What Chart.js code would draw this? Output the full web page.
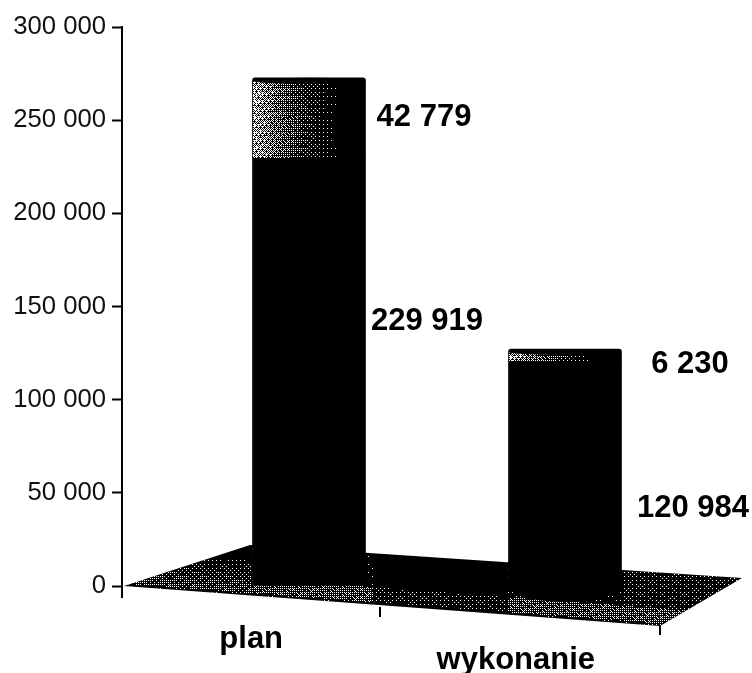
<!DOCTYPE html>
<html>
<head>
<meta charset="utf-8">
<script src="https://cdn.jsdelivr.net/npm/chart.js@4/dist/chart.umd.min.js"></script>
<style>
html, body { margin: 0; padding: 0; background: #fff; }
canvas { display: block; }
</style>
</head>
<body>
<canvas id="mycanvas" width="752" height="673"></canvas>
<script>
var categories = ['plan', 'wykonanie'];
var lowerValues = [229919, 120984];
var upperValues = [42779, 6230];
var yMax = 300000;
var yStep = 50000;

// 3D look of the original: bars sit further right than their category
var depthShift = 59;
var bayer = [[0, 8, 2, 10], [12, 4, 14, 6], [3, 11, 1, 9], [15, 7, 13, 5]];

function spaced(v) {
	return String(v).replace(/\B(?=(\d{3})+$)/g, ' ');
}

// ordered dither, so the scanned halftone of the picture comes through
function dither(ctx, x0, y0, w, h, level) {
	ctx.fillStyle = '#fff';
	for (var y = Math.floor(y0); y < y0 + h; y++) {
		for (var x = Math.floor(x0); x < x0 + w; x++) {
			var grain = 0.5 + ((x * 73 + y * 151) % 17) / 17;
			if (level(x, y) * grain > (bayer[y & 3][x & 3] + 0.5) / 16) ctx.fillRect(x, y, 1, 1);
		}
	}
}

var floorPlugin = {
	id: 'floor',
	beforeDatasetsDraw: function(chart) {
		var ctx = chart.ctx, y0 = chart.scales.y.getPixelForValue(0), x0 = chart.chartArea.left;
		ctx.save();
		ctx.beginPath();
		ctx.moveTo(x0 + 2, y0);
		ctx.lineTo(x0 + 128, y0 - 41);
		ctx.lineTo(x0 + 620, y0 - 8);
		ctx.lineTo(x0 + 538, y0 + 40);
		ctx.closePath();
		ctx.fillStyle = '#000';
		ctx.fill();
		ctx.clip();
		dither(ctx, x0, y0 - 45, 625, 90, function(x, y) {
			// light strip along the front edge, thin on the middle of the floor
			var d = y0 + (x - x0) * 0.0743 - y;
			var strip = (d > 3 && d < 18) ? 0.27 : 0.03;
			if (x < x0 + 130 && d > 3) strip = 0.25 - d * 0.006;
			if (x > x0 + 250 && x < x0 + 385) strip *= 0.3;
			if (x > x0 + 500) strip = Math.max(strip, 0.08);
			return strip;
		});
		ctx.restore();

		// axis stub and slanted category ticks
		ctx.save();
		ctx.strokeStyle = '#000';
		ctx.lineWidth = 2;
		ctx.beginPath();
		ctx.moveTo(x0, y0);
		ctx.lineTo(x0, y0 + 12);
		ctx.moveTo(x0 + 258, y0 + 21);
		ctx.lineTo(x0 + 258, y0 + 31);
		ctx.moveTo(x0 + 538, y0 + 39);
		ctx.lineTo(x0 + 538, y0 + 49);
		ctx.stroke();
		ctx.restore();

		// bars are moved back as one block; restored in afterDatasetsDraw
		ctx.save();
		ctx.translate(depthShift, 0);
		var wyk = chart.getDatasetMeta(0).data[1];
		ctx.fillStyle = '#000';
		ctx.beginPath();
		ctx.ellipse(wyk.x, y0, wyk.width / 2, 16, 0, 0, Math.PI * 2);
		ctx.fill();
	},
	afterDatasetsDraw: function(chart) {
		var ctx = chart.ctx;
		chart.getDatasetMeta(1).data.forEach(function(el) {
			var left = el.x - el.width / 2, top = el.y, h = el.base - el.y;
			dither(ctx, left + 1, top + 4, el.width - 2, h - 4, function(x) {
				var u = (x - left) / el.width;
				return 0.66 * Math.pow(1 - u, 2.5);
			});
			ctx.fillStyle = '#000';
			ctx.beginPath();
			ctx.ellipse(el.x, top + 3, el.width / 2, 3, 0, 0, Math.PI * 2);
			ctx.fill();
		});
		ctx.restore();

		// value labels
		var nudges = [[[118, 164], [128, 148]], [[115, 40], [125, 15]]];
		ctx.save();
		ctx.fillStyle = '#000';
		ctx.font = 'bold 31px "Liberation Sans"';
		ctx.textAlign = 'center';
		ctx.textBaseline = 'middle';
		chart.data.datasets.forEach(function(ds, d) {
			chart.getDatasetMeta(d).data.forEach(function(el, i) {
				var n = nudges[d][i];
				ctx.fillText(spaced(ds.data[i]), el.x + depthShift + n[0], el.y + n[1]);
			});
		});
		ctx.restore();
	}
};

var barGraph = new Chart(document.getElementById('mycanvas'), {
	type: 'bar',
	data: {
		labels: categories,
		datasets: [
			{ data: lowerValues, backgroundColor: '#000', barThickness: 113, borderSkipped: false },
			{ data: upperValues, backgroundColor: '#000', barThickness: 113, borderSkipped: false,
				borderRadius: { topLeft: 3, topRight: 3, bottomLeft: 0, bottomRight: 0 } }
		]
	},
	plugins: [floorPlugin],
	options: {
		responsive: false,
		animation: false,
		layout: { padding: { top: 27, right: 118, left: 0, bottom: 0 } },
		plugins: { legend: { display: false }, tooltip: { enabled: false } },
		scales: {
			x: {
				stacked: true,
				afterFit: function(s) { s.height = 87; },
				border: { display: false },
				grid: { display: false, drawTicks: false },
				ticks: {
					padding: 43,
					labelOffset: 5.5,
					maxRotation: 0,
					autoSkip: false,
					color: '#000',
					font: { family: 'Liberation Sans', size: 31, weight: 'bold', lineHeight: '21px' },
					callback: function(v, i) {
						// wykonanie sits one line lower; spaces pull the two names apart
						return i === 1 ? ['', ' ' + categories[i]] : categories[i] + ' ';
					}
				}
			},
			y: {
				stacked: true,
				min: 0,
				max: yMax,
				afterFit: function(s) { s.width = 122; },
				border: { color: '#000', width: 2 },
				grid: { drawOnChartArea: false, tickLength: 10, tickColor: '#000', tickWidth: 2 },
				ticks: {
					stepSize: yStep,
					padding: 6,
					color: '#111',
					font: { family: 'Liberation Sans', size: 25.7 },
					callback: function(v) { return spaced(v); }
				}
			}
		}
	}
});
</script>
</body>
</html>
